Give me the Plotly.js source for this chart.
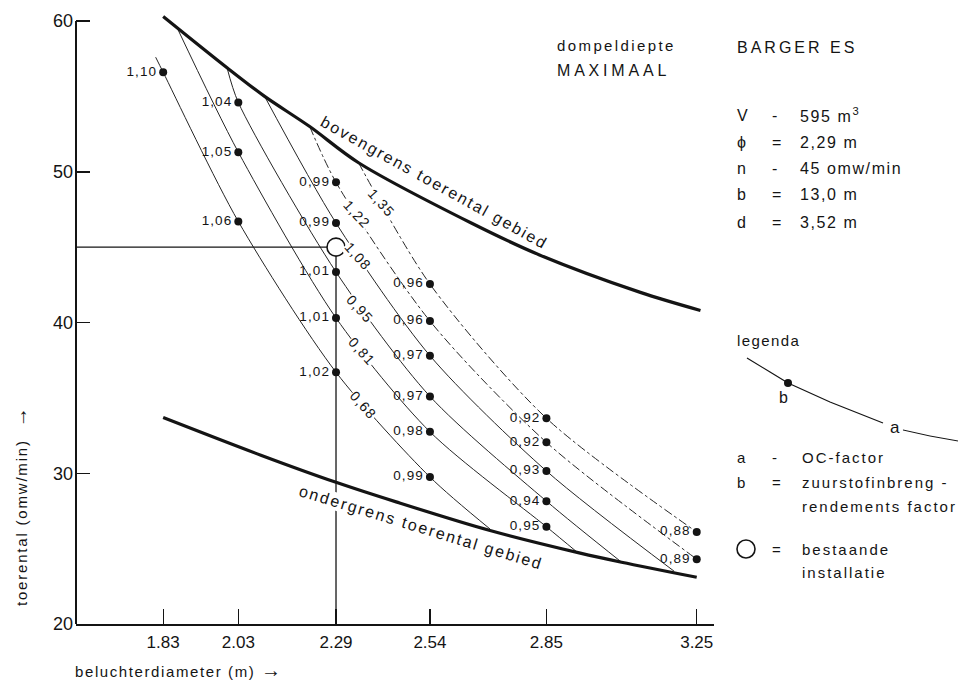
<!DOCTYPE html>
<html><head><meta charset="utf-8">
<script src="https://cdn.plot.ly/plotly-3.0.1.min.js"></script>
<style>
html,body{margin:0;padding:0;background:#fff}
#chart{width:974px;height:684px}
.textpoint text{letter-spacing:1.1px}
</style>
</head><body><div id="chart"></div>
<script>
// ---------------- data ----------------
const diamTicks = [1.83, 2.03, 2.29, 2.54, 2.85, 3.25];
const diamTickText = ['1.83', '2.03', '2.29', '2.54', '2.85', '3.25'];
const rpmTicks = [20, 30, 40, 50, 60];
const rpmTickText = ['20', '30', '40', '50', '60'];

// bovengrens toerental gebied
const upperD = [1.83, 2.00, 2.10, 2.22, 2.35, 2.65, 2.83, 3.10, 3.26];
const upperN = [60.3, 56.9, 55.0, 53.0, 50.6, 46.6, 44.5, 42.0, 40.8];
// ondergrens toerental gebied
const lowerD = [1.83, 2.09, 2.29, 2.45, 2.70, 2.94, 3.05, 3.25];
const lowerN = [33.7, 31.2, 29.4, 28.1, 26.2, 24.7, 24.1, 23.1];

// OC-factor curves (a)
const ocFactors = ['0,68', '0,81', '0,95', '1,08', '1,22', '1,35'];
const oc068D = [1.81, 1.83, 2.03, 2.29, 2.54, 2.70];
const oc068N = [57.6, 56.6, 46.7, 36.7, 29.75, 26.3];
const oc081D = [1.87, 2.03, 2.29, 2.54, 2.85, 2.93];
const oc081N = [59.4, 51.3, 40.3, 32.75, 26.45, 24.8];
const oc095D = [2.00, 2.03, 2.29, 2.54, 2.85, 3.05];
const oc095N = [56.9, 54.6, 43.35, 35.1, 28.15, 24.1];
const oc108D = [2.10, 2.29, 2.54, 2.85, 3.19];
const oc108N = [55.0, 46.6, 37.8, 30.15, 23.5];
const oc122D = [2.22, 2.29, 2.54, 2.85, 3.25];
const oc122N = [53.0, 49.3, 40.1, 32.05, 24.3];
const oc135D = [2.35, 2.54, 2.85, 3.25];
const oc135N = [50.6, 42.55, 33.65, 26.1];

// zuurstofinbreng-rendements factor (b) points
const dotD = [1.83, 2.03, 2.03, 2.03, 2.29, 2.29, 2.29, 2.29, 2.29,
              2.54, 2.54, 2.54, 2.54, 2.54, 2.54, 2.85, 2.85, 2.85, 2.85, 2.85, 3.25, 3.25];
const dotN = [56.6, 54.6, 51.3, 46.7, 49.3, 46.6, 43.35, 40.3, 36.7,
              42.55, 40.1, 37.8, 35.1, 32.75, 29.75, 33.65, 32.05, 30.15, 28.15, 26.45, 26.1, 24.3];
const dotB = ['1,10', '1,04', '1,05', '1,06', '0,99', '0,99', '1,01', '1,01', '1,02',
              '0,96', '0,96', '0,97', '0,97', '0,98', '0,99', '0,92', '0,92', '0,93', '0,94', '0,95', '0,88', '0,89'];

// bestaande installatie
const existD = 2.29;
const existN = 45;

// ---------------- chart ----------------
const FONT = 'Liberation Sans, Arial, Helvetica, sans-serif';
const INK = '#141414';
const xRange = [1.598, 3.296];
const yRange = [20, 60.4];

const ocSeries = [[oc068D, oc068N], [oc081D, oc081N], [oc095D, oc095N],
                  [oc108D, oc108N], [oc122D, oc122N], [oc135D, oc135N]];
const ocDash = ['solid', 'solid', 'solid', 'solid', 'dashdot', 'dashdot'];

const traces = [];
ocSeries.forEach((s, i) => traces.push({
  x: s[0], y: s[1], type: 'scatter', mode: 'lines', name: 'OC ' + ocFactors[i],
  line: {color: '#262626', width: 1, dash: ocDash[i], shape: 'spline', smoothing: 0.8},
  hoverinfo: 'skip'
}));
traces.push({x: upperD, y: upperN, type: 'scatter', mode: 'lines', name: 'bovengrens',
  line: {color: INK, width: 3.2, shape: 'spline', smoothing: 0.9}});
traces.push({x: lowerD, y: lowerN, type: 'scatter', mode: 'lines', name: 'ondergrens',
  line: {color: INK, width: 3.2, shape: 'spline', smoothing: 0.9}});
traces.push({x: [xRange[0], existD], y: [existN, existN], type: 'scatter', mode: 'lines',
  line: {color: INK, width: 1.1}, hoverinfo: 'skip'});
traces.push({x: [existD, existD], y: [yRange[0], existN], type: 'scatter', mode: 'lines',
  line: {color: INK, width: 1.3}, hoverinfo: 'skip'});
traces.push({x: dotD, y: dotN, text: dotB, type: 'scatter', mode: 'markers+text',
  textposition: 'middle left', cliponaxis: false,
  textfont: {family: FONT, size: 13.5, color: INK},
  marker: {color: INK, size: 8}});
traces.push({x: [existD], y: [existN], type: 'scatter', mode: 'markers',
  marker: {color: '#fff', size: 18, line: {color: INK, width: 1.6}}});

// pixel helpers for texts outside the plot area
const L = 76, R = 714, T = 15, B = 624;
const px = (x) => (x - L) / (R - L);
const py = (y) => (B - y) / (B - T);
function txt(t, x, y, size, ls, extra) {
  return Object.assign({
    text: '<span style="letter-spacing:' + ls + 'px">' + t + '</span>',
    xref: 'paper', yref: 'paper', x: px(x), y: py(y),
    xanchor: 'left', yanchor: 'middle', showarrow: false,
    font: {family: FONT, size: size, color: INK}
  }, extra || {});
}
const ARROW = '<span style="font-size:20px;font-weight:bold">→</span>';

const ann = [
  txt('dompeldiepte', 555, 45, 15, 2.4),
  txt('MAXIMAAL', 555, 70, 16, 3.8),
  txt('BARGER ES', 735, 47, 16, 3),
  txt('V', 735, 115, 16, 0.5), txt('-', 770, 115, 16, 0.5), txt('595 m<sup>3</sup>', 798, 115, 16, 1.6),
  txt('ϕ', 735, 142, 16, 0.5), txt('=', 770, 142, 16, 0.5), txt('2,29 m', 798, 142, 16, 1.6),
  txt('n', 735, 168, 16, 0.5), txt('-', 770, 168, 16, 0.5), txt('45 omw/min', 798, 168, 16, 1.6),
  txt('b', 735, 195, 16, 0.5), txt('=', 770, 195, 16, 0.5), txt('13,0 m', 798, 195, 16, 1.6),
  txt('d', 735, 222, 16, 0.5), txt('=', 770, 222, 16, 0.5), txt('3,52 m', 798, 222, 16, 1.6),
  txt('legenda', 735, 340, 15, 1.4),
  txt('b', 777, 397, 16, 0.5), txt('a', 888, 428, 17, 0.5),
  txt('a', 735, 457, 15, 0.5), txt('-', 770, 457, 15, 0.5), txt('OC-factor', 800, 457, 15, 2),
  txt('b', 735, 482, 15, 0.5), txt('=', 770, 482, 15, 0.5), txt('zuurstofinbreng -', 800, 482, 15, 2),
  txt('rendements factor', 800, 506, 15, 2),
  txt('=', 770, 549, 15, 0.5), txt('bestaande', 800, 549, 15, 2),
  txt('installatie', 800, 572, 15, 2),
  txt('beluchterdiameter (m) ' + ARROW, 73, 670, 15, 1.6),
  txt('toerental (omw/min)  ' + ARROW, 20, 506, 15, 1.8, {xanchor: 'center', textangle: -90}),
  // boundary labels
  {text: '<span style="letter-spacing:2px">bovengrens toerental gebied</span>', x: 2.551, y: 49.3,
   xref: 'x', yref: 'y', showarrow: false, textangle: 29, font: {family: FONT, size: 16, color: INK}},
  {text: '<span style="letter-spacing:2px">ondergrens toerental gebied</span>', x: 2.516, y: 26.4,
   xref: 'x', yref: 'y', showarrow: false, textangle: 17, bgcolor: '#fff', borderpad: 0,
   font: {family: FONT, size: 16, color: INK}}
];
// OC-factor labels on their curves
const ocLabelAt = [[2.362, 34.5], [2.358, 38.1], [2.354, 40.9], [2.348, 44.4], [2.345, 47.2], [2.411, 47.9]];
ocFactors.forEach((f, i) => ann.push({
  text: '<span style="letter-spacing:1.2px">' + f + '</span>', x: ocLabelAt[i][0], y: ocLabelAt[i][1],
  xref: 'x', yref: 'y', showarrow: false, textangle: 48, bgcolor: '#fff', borderpad: 0,
  font: {family: FONT, size: 14, color: INK}
}));

// legend glyphs
const legCurve = [[747, 358], [770, 372], [788, 383], [830, 402], [883, 423]];
const legCurve2 = [[903, 430], [930, 436], [958, 441]];
const pathOf = (pts) => pts.map((p, i) => (i ? 'L' : 'M') + px(p[0]).toFixed(4) + ',' + py(p[1]).toFixed(4)).join(' ');
const rx = 1 / (R - L), ry = 1 / (B - T);
const shapes = [
  {type: 'line', xref: 'paper', yref: 'y', x0: 0, x1: 0, y0: 20, y1: 60, line: {color: INK, width: 2}},
  {type: 'path', xref: 'paper', yref: 'paper', path: pathOf(legCurve), line: {color: INK, width: 1.2}},
  {type: 'path', xref: 'paper', yref: 'paper', path: pathOf(legCurve2), line: {color: INK, width: 1}},
  {type: 'circle', xref: 'paper', yref: 'paper', x0: px(788) - 4 * rx, x1: px(788) + 4 * rx,
   y0: py(383) - 4 * ry, y1: py(383) + 4 * ry, fillcolor: INK, line: {color: INK, width: 0}},
  {type: 'circle', xref: 'paper', yref: 'paper', x0: px(746) - 9 * rx, x1: px(746) + 9 * rx,
   y0: py(549) - 9 * ry, y1: py(549) + 9 * ry, fillcolor: 'rgba(0,0,0,0)', line: {color: INK, width: 1.6}}
];

const layout = {
  width: 974, height: 684,
  margin: {l: L, r: 974 - R, t: T, b: 684 - B},
  paper_bgcolor: '#fff', plot_bgcolor: '#fff',
  showlegend: false,
  font: {family: FONT, color: INK},
  xaxis: {
    range: xRange, tickmode: 'array', tickvals: diamTicks, ticktext: diamTickText,
    ticks: 'inside', ticklen: 15, tickwidth: 1.2, tickcolor: INK,
    showline: true, linewidth: 2, linecolor: INK, showgrid: false, zeroline: false,
    tickfont: {family: FONT, size: 17, color: INK}, ticklabelstandoff: 2
  },
  yaxis: {
    range: yRange, tickmode: 'array', tickvals: rpmTicks, ticktext: rpmTickText,
    ticks: 'inside', ticklen: 14, tickwidth: 1.5, tickcolor: INK,
    showline: false, showgrid: false, zeroline: false,
    tickfont: {family: FONT, size: 18, color: INK}, ticklabelstandoff: 2
  },
  annotations: ann,
  shapes: shapes
};

Plotly.newPlot('chart', traces, layout, {staticPlot: true, displayModeBar: false});
</script>
</body></html>
